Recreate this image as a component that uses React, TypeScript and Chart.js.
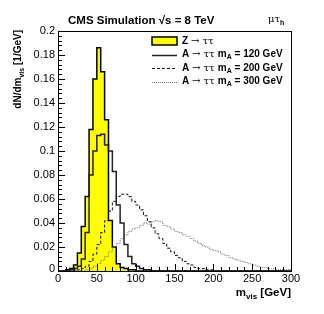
import React, { useEffect, useRef } from 'react';
import { Chart, registerables } from 'chart.js';

Chart.register(...registerables);

const BIN_WIDTH = 5;
const X_MIN = 0;
const X_MAX = 300;
const Y_MIN = 0;
const Y_MAX = 0.2;

const xTickValues = [0, 50, 100, 150, 200, 250, 300];
const xTickLabels = ['0', '50', '100', '150', '200', '250', '300'];
const yTickValues = [0, 0.02, 0.04, 0.06, 0.08, 0.1, 0.12, 0.14, 0.16, 0.18, 0.2];
const yTickLabels = ['0', '0.02', '0.04', '0.06', '0.08', '0.1', '0.12', '0.14', '0.16', '0.18', '0.2'];

// Z -> tautau (filled), bins of 5 GeV starting at zStart
const zStart = 15;
const zValues = [0.001, 0.002, 0.005, 0.015, 0.037, 0.062, 0.118, 0.160, 0.186, 0.166, 0.126, 0.042, 0.020, 0.006, 0.003, 0.002, 0.001, 0.001];

// A -> tautau, mA = 120 GeV
const a120Start = 20;
const a120Values = [0.001, 0.002, 0.004, 0.010, 0.032, 0.080, 0.100, 0.113, 0.114, 0.105, 0.100, 0.083, 0.055, 0.040, 0.022, 0.012, 0.006, 0.004, 0.002, 0.001, 0.001];

// A -> tautau, mA = 200 GeV
const a200Start = 30;
const a200Values = [0.001, 0.002, 0.004, 0.008, 0.014, 0.022, 0.032, 0.042, 0.050, 0.058, 0.062, 0.064, 0.064, 0.062, 0.058, 0.055, 0.051, 0.046, 0.041, 0.036, 0.031, 0.027, 0.023, 0.019, 0.016, 0.013, 0.011, 0.008, 0.006, 0.005, 0.003, 0.002, 0.002, 0.001, 0.001];

// A -> tautau, mA = 300 GeV
const a300Start = 40;
const a300Values = [0.001, 0.002, 0.004, 0.006, 0.009, 0.012, 0.016, 0.020, 0.023, 0.027, 0.030, 0.033, 0.035, 0.036, 0.038, 0.040, 0.039, 0.041, 0.042, 0.041, 0.038, 0.037, 0.035, 0.033, 0.032, 0.030, 0.029, 0.027, 0.025, 0.023, 0.021, 0.020, 0.018, 0.017, 0.016, 0.014, 0.013, 0.011, 0.010, 0.009, 0.008, 0.007, 0.006, 0.005, 0.004, 0.003, 0.003, 0.002, 0.002, 0.001, 0.001, 0.001];

function histPoints(start: number, values: number[]) {
  const nBins = Math.round((X_MAX - X_MIN) / BIN_WIDTH);
  const pts: { x: number; y: number }[] = [];
  for (let i = 0; i < nBins; i++) {
    const lo = X_MIN + i * BIN_WIDTH;
    const idx = Math.round((lo - start) / BIN_WIDTH);
    const v = idx >= 0 && idx < values.length ? values[idx] : 0;
    pts.push({ x: lo, y: v });
  }
  pts.push({ x: X_MAX, y: pts[pts.length - 1].y });
  return pts;
}

const FONT = '"Liberation Sans", Arial, Helvetica, sans-serif';

type Seg = { t: string; f: string; dy?: number };

function segWidth(ctx: CanvasRenderingContext2D, segs: Seg[]) {
  let w = 0;
  for (const s of segs) {
    ctx.font = s.f;
    w += ctx.measureText(s.t).width;
  }
  return w;
}

function drawSegs(ctx: CanvasRenderingContext2D, segs: Seg[], x: number, y: number, align: 'left' | 'right') {
  let cx = align === 'left' ? x : x - segWidth(ctx, segs);
  ctx.textAlign = 'left';
  for (const s of segs) {
    ctx.font = s.f;
    ctx.fillText(s.t, cx, y + (s.dy || 0));
    cx += ctx.measureText(s.t).width;
  }
}

const decorPlugin = {
  id: 'rootDecor',
  beforeDraw(chart: any) {
    const ctx = chart.ctx as CanvasRenderingContext2D;
    ctx.save();
    ctx.fillStyle = '#fff';
    ctx.fillRect(0, 0, chart.width, chart.height);
    ctx.restore();
  },
  afterDraw(chart: any) {
    const ctx = chart.ctx as CanvasRenderingContext2D;
    const { left, right, top, bottom } = chart.chartArea;
    const xs = chart.scales.x;
    const ys = chart.scales.y;
    ctx.save();
    ctx.strokeStyle = '#000';
    ctx.fillStyle = '#000';
    ctx.lineWidth = 1;
    // frame
    ctx.strokeRect(Math.round(left) + 0.5, Math.round(top) + 0.5, Math.round(right - left), Math.round(bottom - top));

    // y ticks (inside)
    ctx.beginPath();
    for (let i = 0; i <= 50; i++) {
      const v = Y_MIN + (i * (Y_MAX - Y_MIN)) / 50;
      const py = Math.round(ys.getPixelForValue(v)) + 0.5;
      const len = i % 5 === 0 ? 7 : 4;
      ctx.moveTo(left, py);
      ctx.lineTo(left + len, py);
    }
    // x ticks (inside)
    for (let i = 0; i <= 30; i++) {
      const v = X_MIN + i * 10;
      const px = Math.round(xs.getPixelForValue(v)) + 0.5;
      const len = i % 5 === 0 ? 7 : 4;
      ctx.moveTo(px, bottom);
      ctx.lineTo(px, bottom - len);
    }
    ctx.stroke();

    // tick labels
    ctx.font = '11px ' + FONT;
    ctx.textBaseline = 'middle';
    ctx.textAlign = 'right';
    yTickValues.forEach((v, i) => {
      ctx.fillText(yTickLabels[i], left - 3, ys.getPixelForValue(v) - (i === 0 ? 2 : 0));
    });
    ctx.textAlign = 'center';
    ctx.textBaseline = 'top';
    xTickValues.forEach((v, i) => {
      ctx.fillText(xTickLabels[i], xs.getPixelForValue(v), bottom + 2);
    });

    ctx.textBaseline = 'alphabetic';
    const TB = 'bold 11.5px ' + FONT;
    // title
    drawSegs(ctx, [
      { t: 'CMS Simulation ', f: TB },
      { t: '\u221As', f: TB },
      { t: ' = 8 TeV', f: TB },
    ], 68, 24, 'left');
    drawSegs(ctx, [
      { t: '\u03BC\u03C4', f: '10px "DejaVu Serif", serif' },
      { t: 'h', f: 'bold 7px ' + FONT, dy: 3 },
    ], 268, 22, 'left');

    // x title
    drawSegs(ctx, [
      { t: 'm', f: 'bold 11.5px ' + FONT },
      { t: 'vis', f: 'bold 8px ' + FONT, dy: 3 },
      { t: ' [GeV]', f: 'bold 11.5px ' + FONT },
    ], 291, 296, 'right');

    // y title
    ctx.save();
    ctx.translate(21, 30);
    ctx.rotate(-Math.PI / 2);
    drawSegs(ctx, [
      { t: 'dN/dm', f: 'bold 10px ' + FONT },
      { t: 'vis', f: 'bold 7px ' + FONT, dy: 3 },
      { t: ' [1/GeV]', f: 'bold 10px ' + FONT },
    ], 0, 0, 'right');
    ctx.restore();

    // legend
    const lx0 = 152;
    const lx1 = 177;
    const tx = 182;
    const rows = [41, 54.5, 68, 81.5];
    const LB = 'bold 10px ' + FONT;
    const LR = '10px "DejaVu Serif", serif';
    const LS = 'bold 7px ' + FONT;
    // Z box
    ctx.fillStyle = '#ffff00';
    ctx.fillRect(lx0, rows[0] - 4, lx1 - lx0, 8);
    ctx.strokeStyle = '#000';
    ctx.lineWidth = 1.5;
    ctx.strokeRect(lx0, rows[0] - 4, lx1 - lx0, 8);
    ctx.fillStyle = '#000';
    const styles = [
      { c: '#222', w: 1.5, d: [] as number[] },
      { c: '#111', w: 1, d: [3, 2] },
      { c: '#777', w: 1, d: [1, 1] },
    ];
    styles.forEach((s, i) => {
      ctx.beginPath();
      ctx.strokeStyle = s.c;
      ctx.lineWidth = s.w;
      ctx.setLineDash(s.d);
      const y = Math.round(rows[i + 1]) + 0.5;
      ctx.moveTo(lx0, y);
      ctx.lineTo(lx1, y);
      ctx.stroke();
    });
    ctx.setLineDash([]);
    ctx.textBaseline = 'middle';
    drawSegs(ctx, [
      { t: 'Z ', f: LB },
      { t: '\u2192 \u03C4\u03C4', f: LR },
    ], tx, rows[0], 'left');
    ['120', '200', '300'].forEach((m, i) => {
      drawSegs(ctx, [
        { t: 'A ', f: LB },
        { t: '\u2192 \u03C4\u03C4 ', f: LR },
        { t: 'm', f: LB },
        { t: 'A', f: LS, dy: 3 },
        { t: ' = ' + m + ' GeV', f: LB },
      ], tx, rows[i + 1], 'left');
    });
    ctx.restore();
  },
};

export default function App() {
  const canvasRef = useRef<HTMLCanvasElement | null>(null);

  useEffect(() => {
    const canvas = canvasRef.current;
    if (!canvas) return;
    const chart = new Chart(canvas, {
      type: 'line',
      data: {
        datasets: [
          {
            label: 'A \u2192 \u03C4\u03C4 mA = 120 GeV',
            data: histPoints(a120Start, a120Values),
            borderColor: '#222',
            borderWidth: 1.5,
            stepped: 'after',
            pointRadius: 0,
            fill: false,
            order: 1,
          },
          {
            label: 'A \u2192 \u03C4\u03C4 mA = 200 GeV',
            data: histPoints(a200Start, a200Values),
            borderColor: '#111',
            borderWidth: 1,
            borderDash: [3, 2],
            stepped: 'after',
            pointRadius: 0,
            fill: false,
            order: 2,
          },
          {
            label: 'A \u2192 \u03C4\u03C4 mA = 300 GeV',
            data: histPoints(a300Start, a300Values),
            borderColor: '#777',
            borderWidth: 1,
            borderDash: [1, 1],
            stepped: 'after',
            pointRadius: 0,
            fill: false,
            order: 3,
          },
          {
            label: 'Z \u2192 \u03C4\u03C4',
            data: histPoints(zStart, zValues),
            borderColor: '#000',
            borderWidth: 1.5,
            backgroundColor: '#ffff00',
            stepped: 'after',
            pointRadius: 0,
            fill: 'origin',
            order: 10,
          },
        ],
      },
      options: {
        responsive: false,
        animation: false,
        events: [],
        layout: { padding: { left: 58, right: 33, top: 31, bottom: 43 } },
        plugins: {
          legend: { display: false },
          tooltip: { enabled: false },
          title: { display: false },
        },
        scales: {
          x: { type: 'linear', min: X_MIN, max: X_MAX, display: false },
          y: { type: 'linear', min: Y_MIN, max: Y_MAX, display: false },
        },
      },
      plugins: [decorPlugin],
    });
    return () => chart.destroy();
  }, []);

  return (
    <div style={{ position: 'fixed', left: 0, top: 0, width: 324, height: 314, background: '#fff' }}>
      <canvas ref={canvasRef} width={324} height={314} style={{ width: 324, height: 314, display: 'block' }} />
    </div>
  );
}
